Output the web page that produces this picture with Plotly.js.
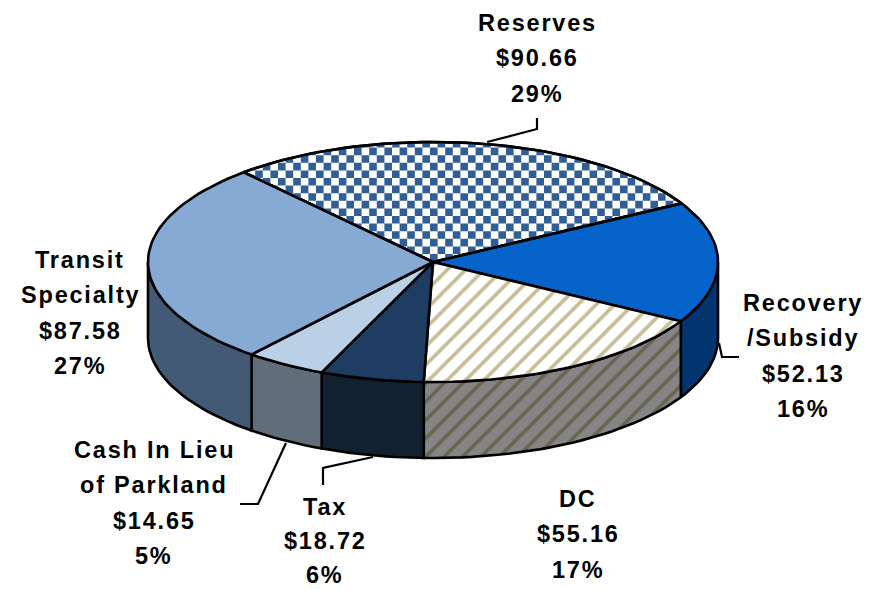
<!DOCTYPE html>
<html><head><meta charset="utf-8">
<script src="https://cdn.plot.ly/plotly-3.0.1.min.js"></script>
<style>
html,body{margin:0;padding:0;background:#fff}
#c{width:884px;height:589px}
.annotation-text{letter-spacing:1.8px}
</style></head><body><div id="c"></div>
<script>
const categories=["Reserves","Recovery /Subsidy","DC","Tax","Cash In Lieu of Parkland","Transit Specialty"];
const values=[90.66,52.13,55.16,18.72,14.65,87.58];
const percents=["29%","16%","17%","6%","5%","27%"];
const amounts=["$90.66","$52.13","$55.16","$18.72","$14.65","$87.58"];
const topColors=["#ffffff","#0563c9","#ffffff","#1f3c63","#b9d0e7","#86aad3"];
const sideColors=["#888888","#023470","#808080","#12212f","#616d79","#425a75"];

const cx=433,cy=262,rx=285,ry=120,depth=76,startDeg=-41.6;
const total=values.reduce((a,b)=>a+b,0);
const pt=(deg,dz=0)=>{const r=deg*Math.PI/180;return [cx+rx*Math.sin(r),cy-ry*Math.cos(r)+dz];};
let acc=startDeg;
const slices=values.map(v=>{const a=acc;acc+=v/total*360;return [a,acc];});
function arc(a,b,dz=0){const n=Math.max(2,Math.ceil(Math.abs(b-a)/2));const o=[];for(let i=0;i<=n;i++)o.push(pt(a+(b-a)*i/n,dz));return o;}
const line={color:"#000",width:2.6};
const traces=[];
function poly(P,extra){traces.push(Object.assign({type:"scatter",mode:"lines",x:P.map(p=>p&&p[0]),y:P.map(p=>p&&p[1]),fill:"toself",line,hoverinfo:"skip",showlegend:false},extra));}

// side walls (visible front half only)
slices.forEach(([a,b],i)=>{
  const s=Math.max(a,90),e=Math.min(b,270);
  if(e<=s)return;
  const P=arc(s,e).concat(arc(e,s,depth));P.push(P[0]);
  const ex={fillcolor:sideColors[i]};
  if(i===2)ex.fillpattern={shape:"/",size:13,solidity:0.28,fgcolor:"#6a6552",bgcolor:"#858585",fillmode:"replace"};
  poly(P,ex);
});
// top faces
slices.forEach(([a,b],i)=>{
  const P=[[cx,cy]].concat(arc(a,b));P.push([cx,cy]);
  const ex={fillcolor:topColors[i]};
  if(i===2)ex.fillpattern={shape:"/",size:13,solidity:0.28,fgcolor:"#c8bd97",bgcolor:"#ffffff",fillmode:"replace"};
  poly(P,ex);
});
// checker overlay for Reserves, clipped to its wedge
function clip(sq,W){
  let out=sq;
  for(let i=0;i<W.length-1&&out.length;i++){
    const A=W[i],B=W[i+1],inp=out;out=[];
    const side=p=>(B[0]-A[0])*(p[1]-A[1])-(B[1]-A[1])*(p[0]-A[0]);
    for(let j=0;j<inp.length;j++){
      const P=inp[j],Q=inp[(j+1)%inp.length],sp=side(P),sq2=side(Q);
      if(sp>=0)out.push(P);
      if((sp>=0)!==(sq2>=0)){const t=sp/(sp-sq2);out.push([P[0]+(Q[0]-P[0])*t,P[1]+(Q[1]-P[1])*t]);}
    }
  }
  return out;
}
const wedge=[[cx,cy]].concat(arc(slices[0][0],slices[0][1]));wedge.push([cx,cy]);
const cell=7.6,path=[];
for(let r=0;r<40;r++)for(let c=0;c<90;c++){
  if((r+c)%2)continue;
  const x=240+c*cell,y=140+r*cell;
  const q=clip([[x,y],[x+cell,y],[x+cell,y+cell],[x,y+cell]],wedge);
  if(q.length>2){q.forEach(p=>path.push(p));path.push(q[0]);path.push(null);}
}
traces.push({type:"scatter",mode:"lines",x:path.map(p=>p&&p[0]),y:path.map(p=>p&&p[1]),fill:"toself",fillcolor:"#2f5f96",line:{width:0,color:"#2f5f96"},connectgaps:false,hoverinfo:"skip",showlegend:false});
traces.push({type:"scatter",mode:"lines",x:wedge.map(p=>p[0]),y:wedge.map(p=>p[1]),line,hoverinfo:"skip",showlegend:false});

// leader lines
const leaders=[
 [[537,118],[537,129],[487,142]],
 [[739,357],[722,357],[719,343]],
 [[323,485],[323,468],[373,457]],
 [[240,504],[258,504],[286,443]]
];
leaders.forEach(L=>traces.push({type:"scatter",mode:"lines",x:L.map(p=>p[0]),y:L.map(p=>p[1]),line:{color:"#000",width:2.2},hoverinfo:"skip",showlegend:false}));

// labels
const labelLines=[
 ["Reserves",amounts[0],percents[0]],
 ["Recovery","/Subsidy",amounts[1],percents[1]],
 ["DC",amounts[2],percents[2]],
 ["Tax",amounts[3],percents[3]],
 ["Cash In Lieu","of Parkland",amounts[4],percents[4]],
 ["Transit","Specialty",amounts[5],percents[5]]
];
const labelPos=[[537,23],[803,303],[578,499],[325,507],[154,450],[80,260]];
const labelStep=[35.3,35.3,35.3,33.8,35.3,35.3];
const annotations=[];
labelLines.forEach((ls,i)=>ls.forEach((t,k)=>annotations.push({x:labelPos[i][0],y:labelPos[i][1]+k*labelStep[i],xref:"x",yref:"y",text:t,showarrow:false,xanchor:"center",yanchor:"middle",borderpad:0,borderwidth:0,font:{family:"Liberation Sans, Arial, sans-serif",size:23.5,color:"#000",weight:700}})));

Plotly.newPlot("c",traces,{
 width:884,height:589,margin:{l:0,r:0,t:0,b:0},paper_bgcolor:"#fff",plot_bgcolor:"#fff",showlegend:false,
 xaxis:{range:[0,884],visible:false,fixedrange:true},
 yaxis:{range:[589,0],visible:false,fixedrange:true},
 annotations
},{displayModeBar:false,staticPlot:true});
</script></body></html>
